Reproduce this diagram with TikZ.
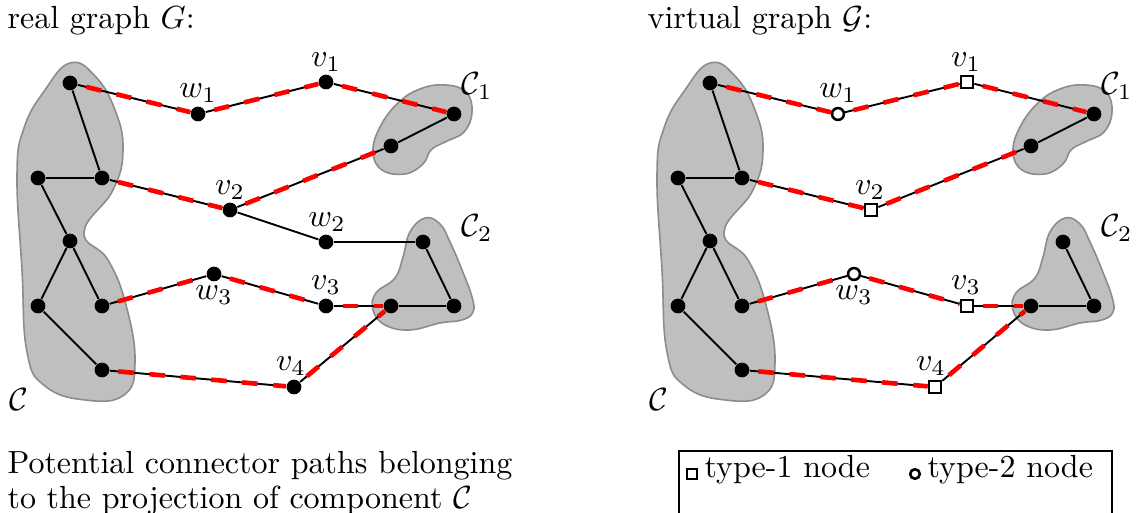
\documentclass[tikz,border=0pt]{standalone}
\usepackage{tikz}
\usepackage{xcolor}

\begin{document}
\begin{tikzpicture}[x=0.3125pt, y=-0.3125pt,
      blob/.style={fill=gray!50, draw=gray!90, line width=0.5pt},
      vtx/.style={circle, fill=black, inner sep=0pt, minimum size=4.6pt},
      tone/.style={rectangle, draw, fill=white, line width=0.8pt, inner sep=0pt, minimum size=3.8pt},
      ttwo/.style={circle, draw, fill=white, line width=0.8pt, inner sep=0pt, minimum size=3.7pt},
      link/.style={line width=0.6pt},
      cpath/.style={line width=0.6pt, postaction={draw=red, line width=1.45pt,
                    dash pattern=on 4.8pt off 4.9pt, dash phase=7pt}},
      lab/.style={inner sep=0pt}
    ]
      \clip (0,0) rectangle (1137,513);

      % real graph G
      \node[anchor=base west, inner sep=0pt] (rtitle) at (7,29) {real graph $G$:};
      \begin{scope}
      \draw[blob] plot[smooth cycle, tension=0.75] coordinates {(70,63) (95,76) (115,110) (123,150)
        (113,190) (84,232) (108,260) (126,305) (135,362) (124,395) (85,400) (45,386) (27,352)
        (22,270) (17,175) (24,128) (45,90)};
      \draw[blob] plot[smooth cycle, tension=0.7] coordinates {(445,85) (466,92) (472,112) (464,132)
        (445,142) (431,150) (423,164) (405,174) (382,170) (373,152) (380,127)
        (398,103) (420,89)};
      \draw[blob] plot[smooth cycle, tension=0.7] coordinates {(425,218) (440,224) (450,242)
        (462,270) (472,297) (473,312) (462,320) (440,323) (410,330) (385,325) (373,310) (376,293)
        (395,278) (403,257) (410,232)};

      \node[vtx] (rc1) at (70,83) {};
      \node[vtx] (rc2) at (38,178) {};
      \node[vtx] (rc3) at (102,178) {};
      \node[vtx] (rc4) at (70,241) {};
      \node[vtx] (rc5) at (38,306) {};
      \node[vtx] (rc6) at (102,306) {};
      \node[vtx] (rc7) at (102,370) {};
      \node[vtx] (rp1) at (454,114) {};
      \node[vtx] (rp2) at (391,146) {};
      \node[vtx] (rq1) at (423,242) {};
      \node[vtx] (rq2) at (391,306) {};
      \node[vtx] (rq3) at (454,306) {};
      \node[vtx] (rw1) at (198,114) {};
      \node[vtx] (rv1) at (326,82) {};
      \node[vtx] (rv2) at (230,210) {};
      \node[vtx] (rw2) at (326,242) {};
      \node[vtx] (rw3) at (214,274) {};
      \node[vtx] (rv3) at (326,306) {};
      \node[vtx] (rv4) at (294,387) {};

      \node[lab] (lrw1) at (198,93) {$w_1$};
      \node[lab] (lrv1) at (326,62) {$v_1$};
      \node[lab] (lrv2) at (230,190) {$v_2$};
      \node[lab] (lrw2) at (327,222) {$w_2$};
      \node[lab] (lrw3) at (214,295) {$w_3$};
      \node[lab] (lrv3) at (326,285) {$v_3$};
      \node[lab] (lrv4) at (291,366) {$v_4$};
      \node[lab] (lrC1) at (477,86) {$\mathcal{C}_1$};
      \node[lab] (lrC2) at (477,228) {$\mathcal{C}_2$};
      \node[lab] (lrC) at (19,400) {$\mathcal{C}$};

      \draw[link] (rc1) -- (rc3);
      \draw[link] (rc2) -- (rc3);
      \draw[link] (rc2) -- (rc4);
      \draw[link] (rc4) -- (rc5);
      \draw[link] (rc4) -- (rc6);
      \draw[link] (rc5) -- (rc7);
      \draw[link] (rp1) -- (rp2);
      \draw[link] (rq1) -- (rq3);
      \draw[link] (rq2) -- (rq3);
      \draw[link] (rv2) -- (rw2);
      \draw[link] (rw2) -- (rq1);
      \draw[cpath] (rc1) -- (rw1);
      \draw[cpath] (rw1) -- (rv1);
      \draw[cpath] (rv1) -- (rp1);
      \draw[cpath] (rc3) -- (rv2);
      \draw[cpath] (rv2) -- (rp2);
      \draw[cpath] (rc6) -- (rw3);
      \draw[cpath] (rw3) -- (rv3);
      \draw[cpath] (rv3) -- (rq2);
      \draw[cpath] (rc7) -- (rv4);
      \draw[cpath] (rv4) -- (rq2);
      \end{scope}

      % virtual graph
      \node[anchor=base west, inner sep=0pt] (gtitle) at (647,29) {virtual graph $\mathcal{G}$:};
      \begin{scope}[shift={(640,0)}]
      \draw[blob] plot[smooth cycle, tension=0.75] coordinates {(70,63) (95,76) (115,110) (123,150)
        (113,190) (84,232) (108,260) (126,305) (135,362) (124,395) (85,400) (45,386) (27,352)
        (22,270) (17,175) (24,128) (45,90)};
      \draw[blob] plot[smooth cycle, tension=0.7] coordinates {(445,85) (466,92) (472,112) (464,132)
        (445,142) (431,150) (423,164) (405,174) (382,170) (373,152) (380,127)
        (398,103) (420,89)};
      \draw[blob] plot[smooth cycle, tension=0.7] coordinates {(425,218) (440,224) (450,242)
        (462,270) (472,297) (473,312) (462,320) (440,323) (410,330) (385,325) (373,310) (376,293)
        (395,278) (403,257) (410,232)};

      \node[vtx] (gc1) at (70,83) {};
      \node[vtx] (gc2) at (38,178) {};
      \node[vtx] (gc3) at (102,178) {};
      \node[vtx] (gc4) at (70,241) {};
      \node[vtx] (gc5) at (38,306) {};
      \node[vtx] (gc6) at (102,306) {};
      \node[vtx] (gc7) at (102,370) {};
      \node[vtx] (gp1) at (454,114) {};
      \node[vtx] (gp2) at (391,146) {};
      \node[vtx] (gq1) at (423,242) {};
      \node[vtx] (gq2) at (391,306) {};
      \node[vtx] (gq3) at (454,306) {};
      \node[ttwo] (gw1) at (198,114) {};
      \node[tone] (gv1) at (327,82) {};
      \node[tone] (gv2) at (231,210) {};
      \node[ttwo] (gw3) at (214,274) {};
      \node[tone] (gv3) at (327,306) {};
      \node[tone] (gv4) at (295,387) {};

      \node[lab] (lgw1) at (198,93) {$w_1$};
      \node[lab] (lgv1) at (326,62) {$v_1$};
      \node[lab] (lgv2) at (230,190) {$v_2$};
      \node[lab] (lgw3) at (214,295) {$w_3$};
      \node[lab] (lgv3) at (326,285) {$v_3$};
      \node[lab] (lgv4) at (291,366) {$v_4$};
      \node[lab] (lgC1) at (477,86) {$\mathcal{C}_1$};
      \node[lab] (lgC2) at (477,228) {$\mathcal{C}_2$};
      \node[lab] (lgC) at (19,400) {$\mathcal{C}$};

      \draw[link] (gc1) -- (gc3);
      \draw[link] (gc2) -- (gc3);
      \draw[link] (gc2) -- (gc4);
      \draw[link] (gc4) -- (gc5);
      \draw[link] (gc4) -- (gc6);
      \draw[link] (gc5) -- (gc7);
      \draw[link] (gp1) -- (gp2);
      \draw[link] (gq1) -- (gq3);
      \draw[link] (gq2) -- (gq3);
      \draw[cpath] (gc1) -- (gw1);
      \draw[cpath] (gw1) -- (gv1);
      \draw[cpath] (gv1) -- (gp1);
      \draw[cpath] (gc3) -- (gv2);
      \draw[cpath] (gv2) -- (gp2);
      \draw[cpath] (gc6) -- (gw3);
      \draw[cpath] (gw3) -- (gv3);
      \draw[cpath] (gv3) -- (gq2);
      \draw[cpath] (gc7) -- (gv4);
      \draw[cpath] (gv4) -- (gq2);
      \end{scope}

      % caption and legend
      \node[anchor=north west, inner sep=0pt, align=left] (caption) at (7,451)
        {Potential connector paths belonging\\[-1.2pt]to the projection of component $\mathcal{C}$};
      \node[draw, line width=0.6pt, anchor=north west, minimum width=433*0.3125pt,
            minimum height=40pt] (legend) at (678,450) {};
      \node[tone, line width=0.8pt, minimum size=3pt] (keyone) at (692,474) {};
      \node[anchor=base west, inner sep=0pt] (txtone) at (704,478) {type-1 node};
      \node[ttwo, line width=0.8pt, minimum size=3pt] (keytwo) at (915,474) {};
      \node[anchor=base west, inner sep=0pt] (txttwo) at (927,478) {type-2 node};
    \end{tikzpicture}
\end{document}
